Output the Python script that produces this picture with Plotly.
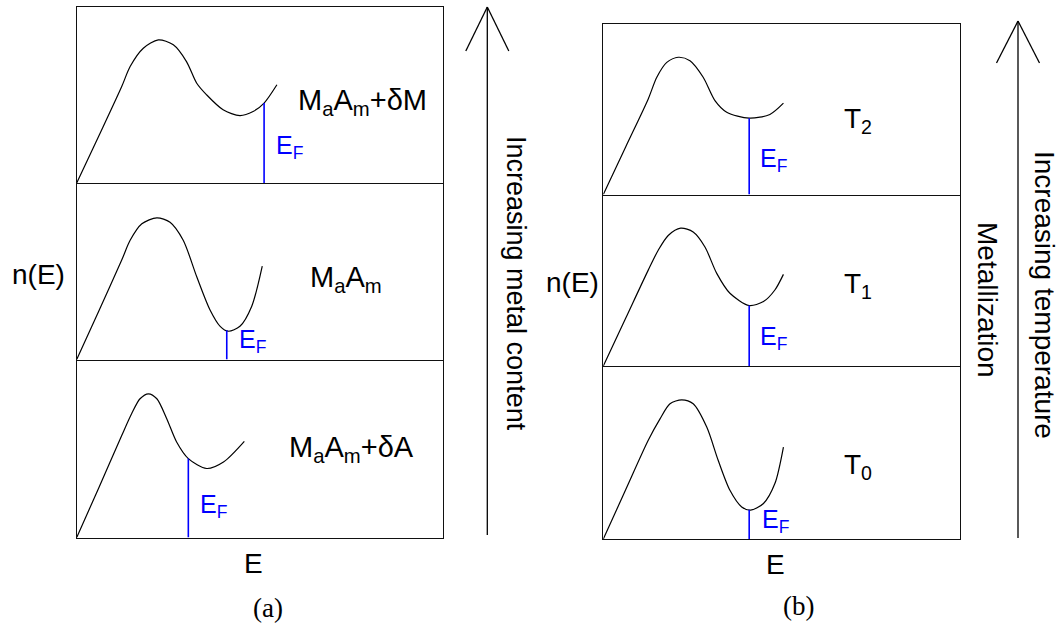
import numpy as np
import plotly.graph_objects as go

W, H = 1062, 624
SANS = "Liberation Sans, Arial, Helvetica, sans-serif"
SERIF = "Liberation Serif, Times New Roman, serif"
BLUE = "#0000ff"

# ---- density-of-states sketches (E and n(E) in box-relative units, 0..1) ----
# panel (a): composition series, top to bottom
dos_a_metal_x = [0.0, 0.062, 0.123, 0.146, 0.182, 0.223, 0.264, 0.300, 0.328, 0.355, 0.400, 0.446, 0.482, 0.512, 0.547]
dos_a_metal_y = [0.0, 0.274, 0.548, 0.662, 0.766, 0.813, 0.785, 0.690, 0.567, 0.501, 0.416, 0.383, 0.406, 0.454, 0.558]
dos_a_stoich_x = [0.0, 0.062, 0.123, 0.146, 0.178, 0.219, 0.255, 0.291, 0.328, 0.364, 0.392, 0.414, 0.446, 0.478, 0.507]
dos_a_stoich_y = [0.0, 0.284, 0.568, 0.681, 0.775, 0.809, 0.784, 0.681, 0.473, 0.285, 0.190, 0.162, 0.190, 0.303, 0.534]
dos_a_anion_x = [0.0, 0.062, 0.123, 0.150, 0.173, 0.196, 0.219, 0.246, 0.273, 0.305, 0.355, 0.401, 0.458]
dos_a_anion_y = [0.0, 0.289, 0.578, 0.701, 0.786, 0.814, 0.786, 0.673, 0.541, 0.447, 0.391, 0.428, 0.545]

# panel (b): temperature series T2, T1, T0 (top to bottom)
dos_b_t2_x = [0.0, 0.063, 0.126, 0.150, 0.178, 0.210, 0.243, 0.280, 0.313, 0.346, 0.409, 0.467, 0.505]
dos_b_t2_y = [0.0, 0.281, 0.561, 0.688, 0.775, 0.805, 0.785, 0.688, 0.551, 0.483, 0.448, 0.470, 0.536]
dos_b_t1_x = [0.0, 0.063, 0.126, 0.154, 0.182, 0.217, 0.252, 0.285, 0.318, 0.355, 0.409, 0.449, 0.481, 0.505]
dos_b_t1_y = [0.0, 0.282, 0.564, 0.681, 0.768, 0.811, 0.788, 0.700, 0.545, 0.428, 0.356, 0.379, 0.447, 0.539]
dos_b_t0_x = [0.0, 0.063, 0.126, 0.159, 0.187, 0.220, 0.252, 0.290, 0.322, 0.355, 0.388, 0.413, 0.449, 0.481, 0.505]
dos_b_t0_y = [0.0, 0.288, 0.575, 0.700, 0.788, 0.811, 0.788, 0.652, 0.459, 0.284, 0.187, 0.168, 0.207, 0.323, 0.536]

# Fermi-level positions (same units as E)
ef_a = [0.512, 0.410, 0.305]
ef_b = [0.409, 0.409, 0.409]

labels_a = ["M<sub>a</sub>A<sub>m</sub>+δM", "M<sub>a</sub>A<sub>m</sub>", "M<sub>a</sub>A<sub>m</sub>+δA"]
labels_b = ["T<sub>2</sub>", "T<sub>1</sub>", "T<sub>0</sub>"]

curves_a = [(dos_a_metal_x, dos_a_metal_y), (dos_a_stoich_x, dos_a_stoich_y), (dos_a_anion_x, dos_a_anion_y)]
curves_b = [(dos_b_t2_x, dos_b_t2_y), (dos_b_t1_x, dos_b_t1_y), (dos_b_t0_x, dos_b_t0_y)]


def px(x):
    return x / W


def py(y):
    return 1 - y / H


FRAME_W = 1.4
HALF = FRAME_W / 2

# frame geometry in pixels: outer left/right, and row boundaries (top, dividers, bottom)
A_X = (76.7, 442.7)
A_ROWS = [7, 183.7, 360.3, 537.5]
B_X = (603.3, 960.0)
B_ROWS = [24, 195.3, 366.7, 539.0]


def row_spans(rows):
    # adjacent frames share a single divider line: pull each plot area in by
    # half a line width at the shared edges so the two axis lines coincide
    spans = []
    for i in range(3):
        top = rows[i] + (HALF if i > 0 else 0)
        bot = rows[i + 1] - (HALF if i < 2 else 0)
        spans.append((top, bot))
    return spans


fig = go.Figure()
layout = dict(width=W, height=H, autosize=False, margin=dict(l=0, r=0, t=0, b=0),
              paper_bgcolor="white", plot_bgcolor="white", showlegend=False)

axis_style = dict(showline=True, mirror=True, linecolor="#111111", linewidth=FRAME_W,
                  showgrid=False, zeroline=False, showticklabels=False, ticks="",
                  fixedrange=True)

idx = 0
for xs_px, rows, curves, efs in [(A_X, A_ROWS, curves_a, ef_a), (B_X, B_ROWS, curves_b, ef_b)]:
    for (top, bot), (cx, cy), ef in zip(row_spans(rows), curves, efs):
        idx += 1
        xa = "xaxis" if idx == 1 else f"xaxis{idx}"
        ya = "yaxis" if idx == 1 else f"yaxis{idx}"
        xr = "x" if idx == 1 else f"x{idx}"
        yr = "y" if idx == 1 else f"y{idx}"
        layout[xa] = dict(domain=[px(xs_px[0]), px(xs_px[1])], range=[0, 1], anchor=yr, **axis_style)
        layout[ya] = dict(domain=[py(bot), py(top)], range=[0, 1], anchor=xr, **axis_style)
        fig.add_trace(go.Scatter(x=cx, y=cy, mode="lines", xaxis=xr, yaxis=yr,
                                 line=dict(color="black", width=1.2, shape="spline", smoothing=0.8),
                                 hoverinfo="skip"))
        ef_y = float(np.interp(ef, cx, cy))
        fig.add_trace(go.Scatter(x=[ef, ef], y=[0, ef_y], mode="lines", xaxis=xr, yaxis=yr,
                                 line=dict(color=BLUE, width=1.6), hoverinfo="skip"))

fig.update_layout(**layout)

annotations = []


def ann(x, y, text, size=28, color="black", angle=0, family=SANS):
    annotations.append(dict(x=px(x), y=py(y), xref="paper", yref="paper", text=text,
                            showarrow=False, textangle=angle, xanchor="center", yanchor="middle",
                            font=dict(family=family, size=size, color=color)))


# composition / temperature labels
for (x, y), t in zip([(362, 102), (346, 279), (351, 449)], labels_a):
    ann(x, y, t, size=29)
for (x, y), t in zip([(858, 121), (858, 286), (858, 466)], labels_b):
    ann(x, y, t, size=28)

# Fermi-level labels
for x, y in [(289, 147), (252, 341), (213, 506), (774, 160), (774, 338), (775, 521)]:
    ann(x, y, "E<sub>F</sub>", size=25, color=BLUE)

# axis names
ann(38, 274, "n(E)")
ann(572, 283, "n(E)")
ann(253, 563, "E")
ann(775, 564, "E")
ann(268, 608, "(a)", size=27, family=SERIF)
ann(798, 606, "(b)", size=27, family=SERIF)

# arrow captions
ann(516, 283, "Increasing metal content", angle=90, size=27)
ann(988, 300, "Metallization", angle=90)
ann(1045, 295, "Increasing temperature", angle=90)

shapes = []


def seg(x0, y0, x1, y1):
    shapes.append(dict(type="line", xref="paper", yref="paper",
                       x0=px(x0), y0=py(y0), x1=px(x1), y1=py(y1),
                       line=dict(color="black", width=1.3)))


# upward arrows with open heads
for ax, tip, base, bottom in [(487.3, 7, 51, 535), (1018, 21, 63, 538)]:
    seg(ax, bottom, ax, tip)
    seg(ax - 21.5, base, ax, tip)
    seg(ax + 21.5, base, ax, tip)

fig.update_layout(annotations=annotations, shapes=shapes)
fig.write_html("out.html")
